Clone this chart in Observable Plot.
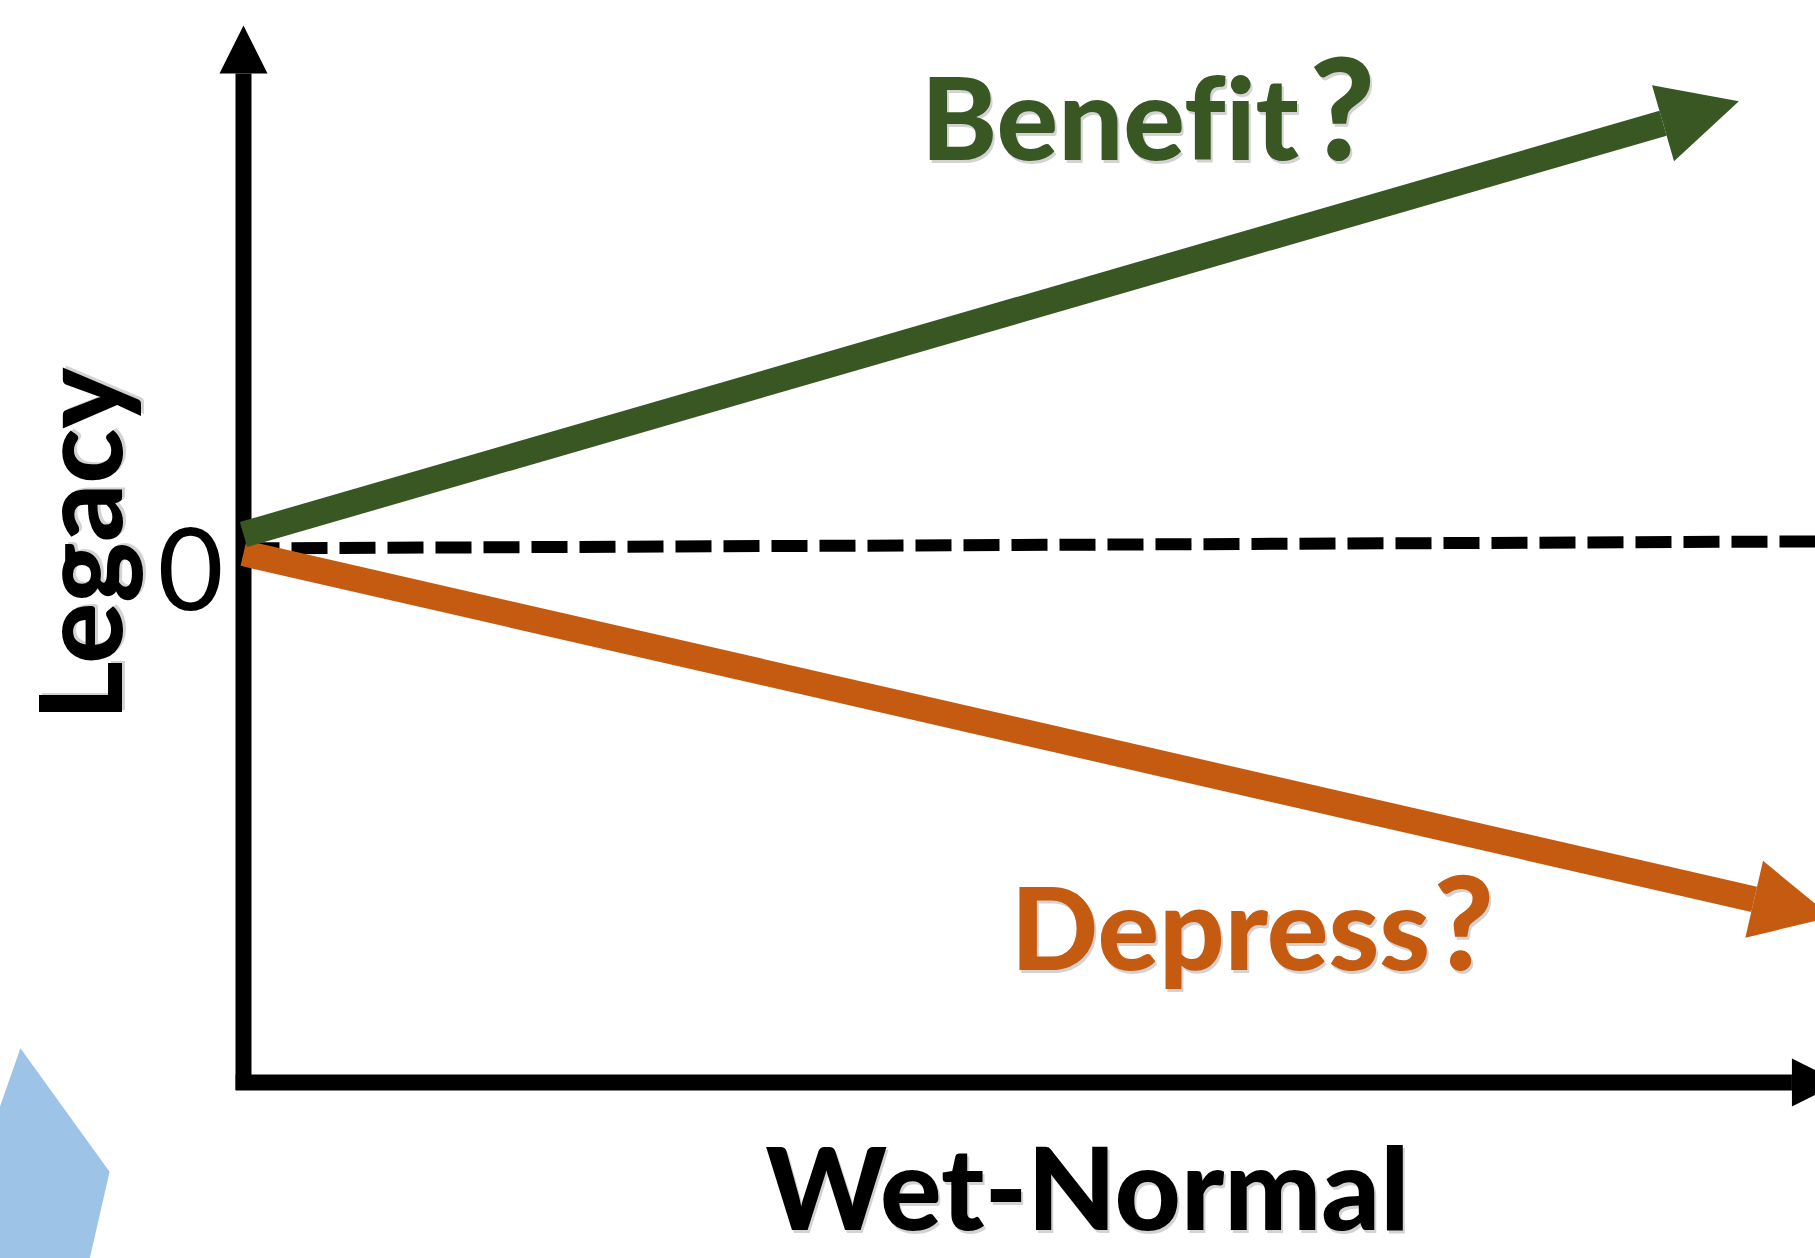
<!DOCTYPE html>
<html><head><meta charset="utf-8">
<script src="https://cdn.jsdelivr.net/npm/d3@7"></script>
<script src="https://cdn.jsdelivr.net/npm/@observablehq/plot@0.6"></script>
<style>html,body{margin:0;padding:0;background:#fff;} #chart svg{display:block;}</style>
</head><body><div id="chart"></div>
<script>
// ---- data (x: wet-normal, 0..100; y: legacy effect, 0 = no effect) ----
const zeroLineX = [0, 100];
const zeroLineY = [0, 1.3];
const benefitX = [0, 90.3];
const benefitY = [2.6, 79.6];
const depressX = [0, 96.1];
const depressY = [-0.9, -65.7];
const yAxisX = [0, 0];
const yAxisY = [-101.4, 88.9];
const xAxisX = [-0.5, 98.5];
const xAxisY = [-100, -100];
const blueShapeX = [-14.19, -8.52, -9.86, -16, -16];
const blueShapeY = [-93.6, -116.7, -134, -134, -108.8];
const labels = ["Benefit", "?", "Depress", "?", "Wet-Normal", "Legacy", "0"];
const labelX = [43.1, 67.8, 48.8, 75.7, 53.69, -7.7, -1.27];
const labelY = [72.66, 72.66, -79.03, -79.03, -127.6, 0.75, -11.61];

const GREEN = "#385723", ORANGE = "#C55A11", BLUE = "#9DC3E6";
const pts = (xs, ys) => xs.map((x, i) => ({x, y: ys[i]}));

function headSymbol(len, wid) {
  return {draw(ctx) { ctx.moveTo(0, -len); ctx.lineTo(wid / 2, 0); ctx.lineTo(-wid / 2, 0); ctx.closePath(); }};
}

const common = {
  width: 1815, height: 1258,
  marginLeft: 243, marginRight: 0, marginTop: 25, marginBottom: 176,
  x: {domain: [0, 100], axis: null},
  y: {domain: [-100, 97.9], axis: null},
  style: {fontFamily: "Lato, 'Open Sans', sans-serif", background: "#fff", fontVariantLigatures: "none"}
};

const arrows = [
  {name: "y", xs: yAxisX, ys: yAxisY, color: "#000", w: 16, len: 48, wid: 48},
  {name: "x", xs: xAxisX, ys: xAxisY, color: "#000", w: 16, len: 48, wid: 48},
  {name: "depress", xs: depressX, ys: depressY, color: ORANGE, w: 26, len: 79, wid: 79},
  {name: "benefit", xs: benefitX, ys: benefitY, color: GREEN, w: 26, len: 79, wid: 79}
];

function baseMarks() {
  return [
    Plot.line(pts(blueShapeX, blueShapeY), {x: "x", y: "y", fill: BLUE, stroke: "none"}),
    Plot.line(pts(zeroLineX, zeroLineY), {x: "x", y: "y", stroke: "#000", strokeWidth: 12, strokeDasharray: "36,12", strokeLinecap: "butt"}),
    ...arrows.map(a => Plot.line(pts(a.xs, a.ys), {x: "x", y: "y", stroke: a.color, strokeWidth: a.w, strokeLinecap: "butt"}))
  ];
}

// pass 1: get scales to orient arrowheads
const probe = Plot.plot({...common, marks: baseMarks()});
const sx = probe.scale("x"), sy = probe.scale("y");

const headMarks = arrows.map(a => {
  const x1 = sx.apply(a.xs[0]), y1 = sy.apply(a.ys[0]);
  const x2 = sx.apply(a.xs[1]), y2 = sy.apply(a.ys[1]);
  const rot = Math.atan2(y2 - y1, x2 - x1) * 180 / Math.PI + 90;
  return Plot.dot([{x: a.xs[1], y: a.ys[1]}], {x: "x", y: "y", symbol: headSymbol(a.len, a.wid), r: 10, fill: a.color, stroke: "none", rotate: rot});
});

const textRows = labels.map((t, i) => ({t, x: labelX[i], y: labelY[i]}));
const styleOf = [
  {fill: GREEN, fontSize: 115, fontWeight: 900, textAnchor: "start"},
  {fill: GREEN, fontSize: 142, fontWeight: 900, textAnchor: "start"},
  {fill: ORANGE, fontSize: 115, fontWeight: 900, textAnchor: "start"},
  {fill: ORANGE, fontSize: 130, fontWeight: 900, textAnchor: "start"},
  {fill: "#000", fontSize: 115, fontWeight: 900, textAnchor: "middle"},
  {fill: "#000", fontSize: 114, fontWeight: 900, textAnchor: "middle", rotate: -90},
  {fill: "#000", fontSize: 114, fontWeight: 400, textAnchor: "end"}
];
const textMarks = [];
textRows.forEach((row, i) => {
  const s = styleOf[i];
  const shadow = i < 6;
  if (shadow) textMarks.push(Plot.text([row], {x: "x", y: "y", text: "t", lineAnchor: "bottom", ...s, fill: "#808080", fillOpacity: 0.35, dx: s.rotate ? 3 : 2, dy: s.rotate ? -2 : 3}));
  textMarks.push(Plot.text([row], {x: "x", y: "y", text: "t", lineAnchor: "bottom", ...s}));
});

const chart = Plot.plot({...common, marks: [...baseMarks(), ...headMarks, ...textMarks]});
document.getElementById("chart").appendChild(chart);
</script>
</body></html>
